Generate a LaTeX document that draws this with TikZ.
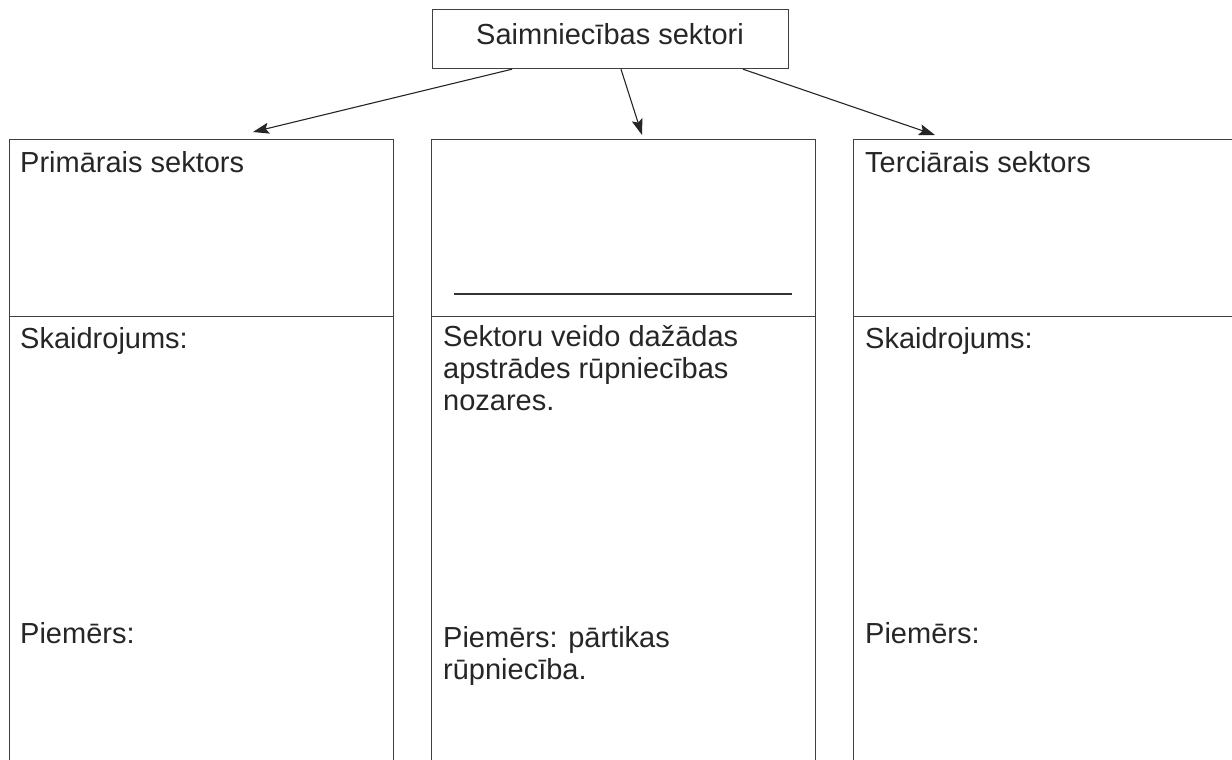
\documentclass[tikz,border=0pt]{standalone}
\usepackage{fontspec}
\setmainfont{Liberation Sans}
\usetikzlibrary{arrows.meta}
\begin{document}
\begin{tikzpicture}[x=1pt,y=-1pt,
  frame/.style={draw=black!75,line width=1.2pt},
  cell/.style={frame,rectangle,inner sep=0pt,anchor=north west},
  txt/.style={anchor=base west,inner sep=0pt,font=\fontsize{29}{32}\selectfont,text=black!85},
  conn/.style={draw=black!85,line width=1.1pt,-{Stealth[length=16pt,width=11pt,inset=3pt]}}]
\useasboundingbox (0,0) rectangle (1232,760);
\clip (0,0) rectangle (1232,760);
\fill[white] (0,0) rectangle (1232,760);
% top box
\node[cell,minimum width=356pt,minimum height=59pt] (top) at (432,9) {};
\node[anchor=base,inner sep=0pt,font=\fontsize{29}{32}\selectfont,text=black!85] (toptxt) at (610,45) {Saimniecības sektori};
% upper cells
\node[cell,minimum width=384pt,minimum height=177pt] (c1) at (9,139) {};
\node[cell,minimum width=384pt,minimum height=177pt] (c2) at (431,139) {};
\node[cell,minimum width=400pt,minimum height=177pt] (c3) at (853,139) {};
% lower cells
\node[cell,minimum width=384pt,minimum height=470pt] (d1) at (9,316) {};
\node[cell,minimum width=384pt,minimum height=470pt] (d2) at (431,316) {};
\node[cell,minimum width=400pt,minimum height=470pt] (d3) at (853,316) {};
% underline in middle cell
\coordinate (u1) at (454,294);
\coordinate (u2) at (792,294);
\draw[draw=black!80,line width=1.1pt] (u1) -- (u2);
% texts
\node[txt] (t1) at (20,172) {Primārais sektors};
\node[txt] (t3) at (865,172) {Terciārais sektors};
\node[txt] (s1) at (20,348) {Skaidrojums:};
\node[txt] (s3) at (865,348) {Skaidrojums:};
\node[txt,align=left,anchor=north west] (s2) at (443,325) {Sektoru veido dažādas\\apstrādes rūpniecības\\nozares.};
\node[txt] (p1) at (20,643) {Piemērs:};
\node[txt] (p3) at (865,643) {Piemērs:};
\node[txt,align=left,anchor=north west] (p2) at (443,626) {Piemērs: pārtikas\\rūpniecība.};
% arrows
\draw[conn] ([xshift=80pt]top.south west) -- ([xshift=244pt,yshift=7pt]c1.north west);
\draw[conn] ([xshift=189pt]top.south west) -- ([xshift=211pt,yshift=4pt]c2.north west);
\draw[conn] ([xshift=311pt]top.south west) -- ([xshift=82pt,yshift=4pt]c3.north west);
\end{tikzpicture}
\end{document}
